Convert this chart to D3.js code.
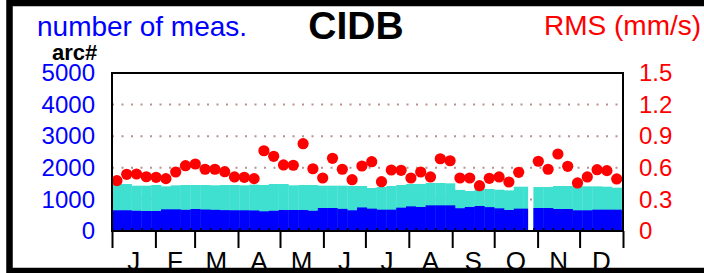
<!DOCTYPE html>
<html>
<head>
<meta charset="utf-8">
<script src="https://cdn.jsdelivr.net/npm/d3@7"></script>
<style>
  body { margin: 0; background: #fff; }
  text { font-family: "Liberation Sans", Arial, sans-serif; }
</style>
</head>
<body>
<svg width="704" height="273"></svg>
<script>
// weekly values, week 0 starts Jan 1
var months = ["J","F","M","A","M","J","J","A","S","O","N","D"];
var leftTicks = [0, 1000, 2000, 3000, 4000, 5000];
var rightTicks = [0, 0.3, 0.6, 0.9, 1.2, 1.5];
var gridTicks = [1000, 2000, 3000, 4000];

var rms = [0.478,0.538,0.541,0.515,0.510,0.497,0.560,0.620,0.636,0.586,0.586,0.563,0.513,
           0.510,0.497,0.762,0.709,0.627,0.624,0.829,0.591,0.503,0.690,0.586,0.487,0.617,
           0.658,0.468,0.579,0.576,0.503,0.560,0.513,0.686,0.667,0.503,0.503,0.430,0.500,
           0.513,0.465,0.557,null,0.662,0.586,0.731,0.614,0.456,0.513,0.582,0.573,0.494];

var measTotal = [1497,1487,1434,1434,1456,1413,1445,1456,1456,1456,1445,1456,1456,
                 1445,1466,1456,1487,1487,1445,1456,1456,1434,1434,1434,1424,
                 1424,1361,1392,1424,1456,1487,1487,1519,1519,1508,1300,1266,1329,1329,
                 1307,1286,1402,1402,1392,1392,1424,1424,1424,1413,1413,1402,1371];

var measBlue = [655,655,640,633,633,686,686,670,696,680,670,660,655,
                655,650,623,640,665,665,665,640,728,728,700,655,
                745,707,675,675,738,780,759,812,812,812,720,760,791,755,
                717,665,707,707,728,728,696,696,654,654,675,675,675];

// days covered by each weekly arc (week 42 is short)
var arcDays = measTotal.map(function(d, i) { return i == 42 ? 3 : 7; });

var svg = d3.select("svg");
var pLeft = 112, pRight = 623, pTop = 73, pBottom = 231;
var year = 2021;
var jan1 = new Date(year, 0, 1);

var x = d3.scaleTime()
    .domain([jan1, new Date(year + 1, 0, 1)])
    .range([pLeft, pRight]);
var yL = d3.scaleLinear().domain([0, 5000]).range([pBottom, pTop]);
var yR = d3.scaleLinear().domain([0, 1.5]).range([pBottom, pTop]);

function day(d) { return new Date(jan1.getTime() + d * 864e5); }

var weeks = measTotal.map(function(t, i) {
  return { i: i, total: t, blue: measBlue[i], rms: rms[i], days: arcDays[i] };
});

// grid
svg.append("g").selectAll("line")
  .data(gridTicks).enter().append("line")
  .attr("x1", pLeft).attr("x2", pRight)
  .attr("y1", function(d) { return yL(d); })
  .attr("y2", function(d) { return yL(d); })
  .attr("stroke", "#bc8f8f")
  .attr("stroke-width", 2)
  .attr("stroke-dasharray", "2,7.5");

// bars
svg.append("g").selectAll("rect")
  .data(weeks).enter().append("rect")
  .attr("x", function(d) { return x(day(d.i * 7)); })
  .attr("width", function(d) { return x(day(d.i * 7 + d.days)) - x(day(d.i * 7)) + 0.3; })
  .attr("y", function(d) { return yL(d.total); })
  .attr("height", function(d) { return pBottom - yL(d.total); })
  .attr("fill", "#40e0d0");

svg.append("g").selectAll("rect")
  .data(weeks).enter().append("rect")
  .attr("x", function(d) { return x(day(d.i * 7)); })
  .attr("width", function(d) { return x(day(d.i * 7 + d.days)) - x(day(d.i * 7)) + 0.3; })
  .attr("y", function(d) { return yL(d.blue); })
  .attr("height", function(d) { return pBottom - yL(d.blue); })
  .attr("fill", "#0000ff");

// rms dots
svg.append("g").selectAll("circle")
  .data(weeks.filter(function(d) { return d.rms != null; }))
  .enter().append("circle")
  .attr("cx", function(d) { return x(day(d.i * 7 + 3.5)); })
  .attr("cy", function(d) { return yR(d.rms); })
  .attr("r", 5.6)
  .attr("fill", "#ff0000");

// plot frame
svg.append("rect")
  .attr("x", pLeft).attr("y", pTop)
  .attr("width", pRight - pLeft).attr("height", pBottom - pTop)
  .attr("fill", "none").attr("stroke", "#000").attr("stroke-width", 2);

// x axis: month ticks and weekly ticks
var xAxis = svg.append("g")
  .attr("transform", "translate(0," + pBottom + ")")
  .call(d3.axisBottom(x).ticks(d3.timeMonth.every(1)).tickSize(17).tickFormat(""));
xAxis.select(".domain").remove();
xAxis.selectAll("line").attr("stroke", "#000").attr("stroke-width", 2);

var wAxis = svg.append("g")
  .attr("transform", "translate(0," + pBottom + ")")
  .call(d3.axisBottom(x).tickValues(weeks.map(function(d) { return day(d.i * 7); }))
        .tickSize(-3).tickFormat(""));
wAxis.select(".domain").remove();
wAxis.selectAll("line").attr("stroke", "#000").attr("stroke-width", 1.5);

svg.append("g").selectAll("text")
  .data(months).enter().append("text")
  .attr("x", function(d, i) {
    return (x(new Date(year, i, 1)) + x(new Date(year, i + 1, 1))) / 2;
  })
  .attr("y", 270)
  .attr("text-anchor", "middle")
  .attr("font-size", 26)
  .attr("fill", "#000")
  .text(function(d) { return d; });

// left axis
var la = svg.append("g")
  .attr("transform", "translate(95,0)")
  .call(d3.axisLeft(yL).tickValues(leftTicks).tickSize(0).tickPadding(0)
        .tickFormat(d3.format("d")));
la.select(".domain").remove();
la.selectAll("text").attr("font-size", 24).attr("fill", "#0000ff")
  .attr("font-family", "Liberation Sans, Arial, sans-serif");

// right axis
var ra = svg.append("g")
  .attr("transform", "translate(639,0)")
  .call(d3.axisRight(yR).tickValues(rightTicks).tickSize(0).tickPadding(0)
        .tickFormat(function(d) { return d == 0 ? "0" : d3.format(".1f")(d); }));
ra.select(".domain").remove();
ra.selectAll("text").attr("font-size", 24).attr("fill", "#ff0000")
  .attr("font-family", "Liberation Sans, Arial, sans-serif");

// titles
svg.append("text").attr("x", 37).attr("y", 36)
  .attr("font-size", 28).attr("fill", "#0000ff").text("number of meas.");
svg.append("text").attr("x", 356).attr("y", 39)
  .attr("text-anchor", "middle").attr("font-size", 39).attr("font-weight", "bold")
  .attr("fill", "#000").text("CIDB");
svg.append("text").attr("x", 544).attr("y", 35)
  .attr("font-size", 28).attr("fill", "#ff0000").text("RMS (mm/s)");
svg.append("text").attr("x", 52).attr("y", 60)
  .attr("font-size", 22).attr("font-weight", "bold")
  .attr("fill", "#000").text("arc#");

// outer frame
svg.append("rect")
  .attr("x", 9.5).attr("y", 3)
  .attr("width", 710).attr("height", 268)
  .attr("fill", "none").attr("stroke", "#000").attr("stroke-width", 6.5);
</script>
</body>
</html>
